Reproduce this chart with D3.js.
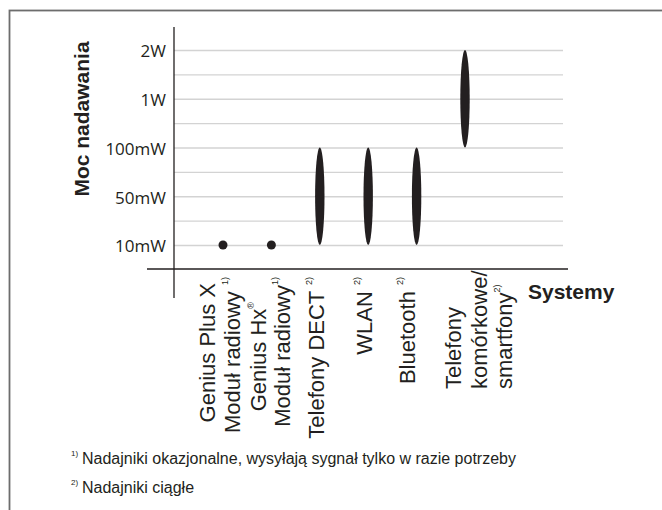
<!DOCTYPE html>
<html>
<head>
<meta charset="utf-8">
<script src="https://cdn.jsdelivr.net/npm/d3@7"></script>
<style>
  html, body { margin: 0; padding: 0; background: #fff; }
  svg { display: block; }
</style>
</head>
<body>
<svg id="chart" width="662" height="510"></svg>
<script>
// ---- data ----
const powerLevels = ["10mW", "50mW", "100mW", "1W", "2W"];
const categories = ["Genius Plus X", "Genius Hx", "Telefony DECT", "WLAN", "Bluetooth", "Telefony komórkowe/smartfony"];
// label lines; "^" starts a superscript segment
const categoryLabels = [
  ["Genius Plus X", "Moduł radiowy ^1)"],
  ["Genius Hx^®", "Moduł radiowy^1)"],
  ["Telefony DECT ^2)"],
  ["WLAN ^2)"],
  ["Bluetooth ^2)"],
  ["Telefony", "komórkowe/", "smartfony^2)"]
];
const minPower = ["10mW", "10mW", "10mW", "10mW", "10mW", "100mW"];
const maxPower = ["10mW", "10mW", "100mW", "100mW", "100mW", "2W"];
const yTitle = "Moc nadawania";
const xTitle = "Systemy";
const footnotes = [
  ["1)", "Nadajniki okazjonalne, wysyłają sygnał tylko w razie potrzeby"],
  ["2)", "Nadajniki ciągłe"]
];

// ---- layout / style config ----
const ink = "#231f20";
const labelFont = "'Liberation Sans', Arial, sans-serif";
// per category, per line: baseline offset from category x, anchor, y
const labelLayout = [
  [{dx: -8, anchor: "end", y: 283}, {dx: 17, anchor: "end", y: 277}],
  [{dx: -5, anchor: "end", y: 302}, {dx: 19, anchor: "end", y: 277}],
  [{dx: 4, anchor: "end", y: 277}],
  [{dx: 4, anchor: "end", y: 277}],
  [{dx: -2, anchor: "end", y: 277}],
  [{dx: -4, anchor: "start", y: 389}, {dx: 22, anchor: "start", y: 389}, {dx: 47, anchor: "start", y: 389}]
];

const svg = d3.select("#chart");

// frame
svg.append("rect")
  .attr("x", 9.5).attr("y", 10.5)
  .attr("width", 800).attr("height", 700)
  .attr("fill", "none").attr("stroke", "#6d6d6d").attr("stroke-width", 1.8);

const x = d3.scalePoint().domain(categories).range([223, 465]);
const y = d3.scaleLinear().domain([0, powerLevels.length - 1]).range([245, 50]);
const idx = v => powerLevels.indexOf(v);

const axisX = 174, gridRight = 563;

// gridlines (every half step)
const gridVals = d3.range(0, powerLevels.length - 0.5, 0.5);
const grid = svg.append("g").attr("transform", `translate(${axisX},0)`)
  .call(d3.axisLeft(y).tickValues(gridVals).tickSize(-(gridRight - axisX)).tickFormat(""));
grid.select(".domain").remove();
grid.selectAll(".tick line").attr("stroke", "#d3d3d3").attr("stroke-width", 1.4);

// y tick labels
const yAx = svg.append("g").attr("transform", `translate(${axisX},0)`)
  .call(d3.axisLeft(y).tickValues(d3.range(powerLevels.length)).tickSize(0).tickPadding(8)
    .tickFormat(i => powerLevels[i]));
yAx.select(".domain").remove();
yAx.selectAll(".tick text")
  .attr("font-family", "'Open Sans', sans-serif")
  .attr("font-size", 17)
  .attr("fill", ink)
  .attr("dy", "0.4em");

// axis lines
svg.append("line").attr("x1", axisX).attr("x2", axisX).attr("y1", 27).attr("y2", 298)
  .attr("stroke", ink).attr("stroke-width", 1.3);
svg.append("line").attr("x1", 147).attr("x2", 568).attr("y1", 269).attr("y2", 269)
  .attr("stroke", ink).attr("stroke-width", 1.3);

// marks
categories.forEach((c, i) => {
  const y0 = y(idx(minPower[i])), y1 = y(idx(maxPower[i]));
  if (y0 === y1) {
    svg.append("circle").attr("cx", x(c)).attr("cy", y0).attr("r", 4.5).attr("fill", ink);
  } else {
    svg.append("ellipse").attr("cx", x(c)).attr("cy", (y0 + y1) / 2)
      .attr("rx", 4.7).attr("ry", Math.abs(y0 - y1) / 2).attr("fill", ink);
  }
});

// category labels
categories.forEach((c, i) => {
  categoryLabels[i].forEach((line, j) => {
    const L = labelLayout[i][j];
    const bx = x(c) + L.dx;
    const t = svg.append("text")
      .attr("transform", `translate(${bx},${L.y}) rotate(-90)`)
      .attr("text-anchor", L.anchor)
      .attr("font-family", labelFont)
      .attr("font-size", 22)
      .attr("fill", ink);
    const parts = line.split("^");
    t.append("tspan").text(parts[0]);
    if (parts[1]) {
      const isReg = parts[1] === "®";
      t.append("tspan").attr("font-size", 9).attr("dy", isReg ? -12 : -12).text(parts[1]);
    }
  });
});

// y title
svg.append("text")
  .attr("transform", `translate(89,119) rotate(-90)`)
  .attr("text-anchor", "middle")
  .attr("font-family", labelFont).attr("font-weight", "bold")
  .attr("font-size", 21).attr("fill", ink)
  .text(yTitle);

// x title
svg.append("text")
  .attr("x", 528).attr("y", 299)
  .attr("font-family", labelFont).attr("font-weight", "bold")
  .attr("font-size", 21).attr("fill", ink)
  .text(xTitle);

// footnotes
footnotes.forEach((f, i) => {
  const by = 464 + i * 29;
  svg.append("text").attr("x", 71).attr("y", by - 8)
    .attr("font-family", labelFont).attr("font-size", 8).attr("fill", ink).text(f[0]);
  svg.append("text").attr("x", 82).attr("y", by)
    .attr("font-family", labelFont).attr("font-size", 16).attr("fill", ink).text(f[1]);
});
</script>
</body>
</html>
